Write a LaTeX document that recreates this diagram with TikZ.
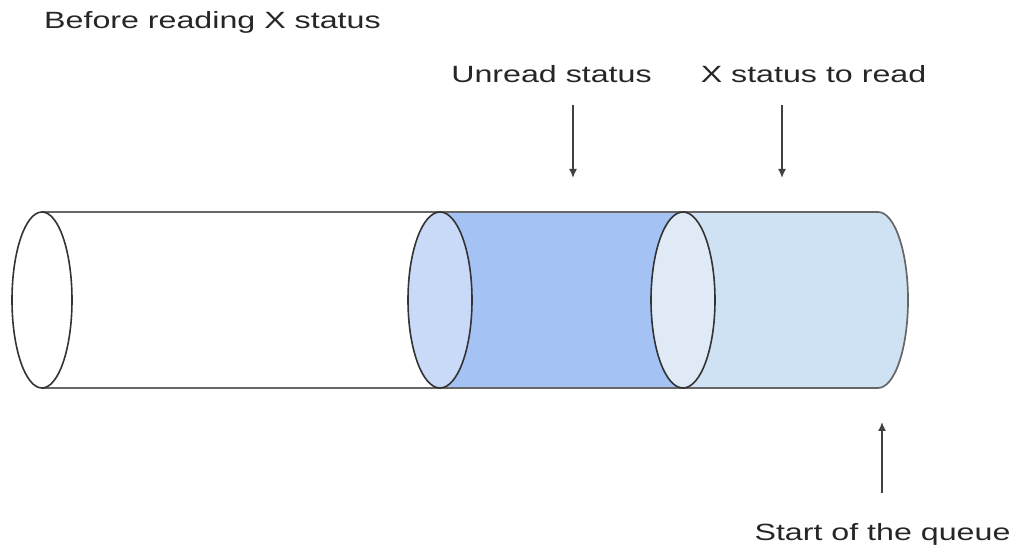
\documentclass[tikz,border=0pt]{standalone}
\usepackage{fontspec}
\setmainfont[FakeStretch=1.37]{Liberation Sans}
\usetikzlibrary{arrows.meta,positioning}
\definecolor{unreadblue}{HTML}{A4C2F4}
\definecolor{toreadblue}{HTML}{CFE2F3}
\definecolor{capblue}{HTML}{C9DAF8}
\definecolor{caplight}{HTML}{E0EAF6}
\tikzset{tube/.style={
            draw=black!60,
            line width=1.7pt
        },
        rim/.style={
            draw=black!80,
            line width=1.6pt
        },
        lbl/.style={
            inner sep=0pt,
            anchor=base,
            text=black!85,
            font=\fontsize{23.5}{28}\selectfont
        },
        pointer/.style={
            -{Latex[length=9pt,width=8pt]},
            draw=black!75,
            line width=1.6pt
        }
    }

\begin{document}
\begin{tikzpicture}
        [x=1pt,y=1pt]
        \useasboundingbox (0,0) rectangle (1015,548);

        % queue body
        \fill[toreadblue] (683,336) -- (878,336) arc[start angle=90,end angle=-90,x radius=30,y radius=88] -- (683,160) -- cycle;
        \draw[tube] (683,336) -- (878,336) arc[start angle=90,end angle=-90,x radius=30,y radius=88] -- (683,160);
        \fill[unreadblue] (440,160) rectangle (683,336);
        \draw[tube] (42,336) -- (683,336);
        \draw[tube] (42,160) -- (683,160);

        \draw[rim,fill=white] (42,248) ellipse [x radius=30,y radius=88];
        \draw[rim,fill=capblue] (440,248) ellipse [x radius=32,y radius=88];
        \draw[rim,fill=caplight] (683,248) ellipse [x radius=32,y radius=88];

        % labels
        \node[lbl,anchor=base west] (title) at (44,519) {Before reading X status};
        \node[lbl] (unread) at (551.5,465) {Unread status};
        \node[lbl] (toread) at (813.5,465) {X status to read};
        \node[lbl] (start) at (882.5,7) {Start of the queue};

        \coordinate (unreadtail) at (573,443);
        \coordinate (unreadtip) at (573,370);
        \coordinate (toreadtail) at (782,443);
        \coordinate (toreadtip) at (782,370);
        \coordinate (starttail) at (882,55);
        \coordinate (starttip) at (882,126);

        \draw[pointer] (unreadtail) -- (unreadtip);
        \draw[pointer] (toreadtail) -- (toreadtip);
        \draw[pointer] (starttail) -- (starttip);

    \end{tikzpicture}
\end{document}
